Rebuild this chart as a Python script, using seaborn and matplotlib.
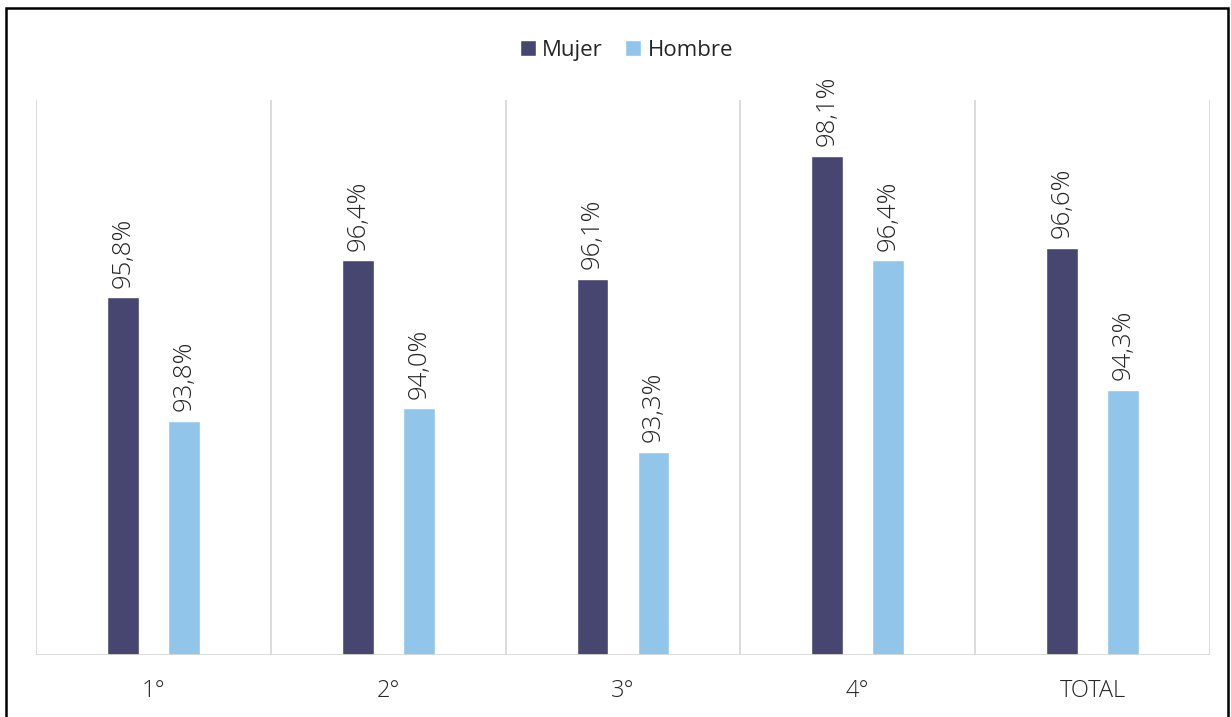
import seaborn as sns
from matplotlib import pyplot as plt
from matplotlib.patches import Rectangle
import pandas as pd

cursos = ['1°', '2°', '3°', '4°', 'TOTAL']
mujer = [95.8, 96.4, 96.1, 98.1, 96.6]
hombre = [93.8, 94.0, 93.3, 96.4, 94.3]
series = ['Mujer', 'Hombre']
colores = ['#474670', '#92C5EA']

df = pd.DataFrame({
    'curso': cursos * 2,
    'valor': mujer + hombre,
    'sexo': ['Mujer'] * len(cursos) + ['Hombre'] * len(cursos),
})

sns.set_theme(style='white')
plt.rcParams['font.family'] = ['Open Sans', 'DejaVu Sans']
plt.rcParams['font.weight'] = 'light'

fig = plt.figure(figsize=(12.31, 7.17), dpi=100)
ax = fig.add_axes([36 / 1231, 1 - 655 / 717, (1210 - 36) / 1231, (655 - 100) / 717])

sns.barplot(data=df, x='curso', y='valor', hue='sexo', hue_order=series,
            palette=colores, saturation=1, width=0.52, gap=0.48, ax=ax, legend=True)

ax.set_ylim(90, 99)
ax.set_xlim(-0.5, len(cursos) - 0.5)
for s in ax.spines.values():
    s.set_visible(False)
for xb in [i - 0.5 for i in range(len(cursos) + 1)]:
    ax.axvline(xb, color='#D9D9D9', lw=1.3, zorder=0)
ax.axhline(90, color='#D9D9D9', lw=2, zorder=3)

ax.set_yticks([])
ax.set_xlabel('')
ax.set_ylabel('')
ax.tick_params(axis='x', length=0, pad=17, labelsize=17, labelcolor='#262626')

for cont, vals in zip(ax.containers, [mujer, hombre]):
    ax.bar_label(cont, labels=[f'{v:.1f}%'.replace('.', ',') for v in vals],
                 rotation=90, padding=7, fontsize=18.5, color='#262626')

ax.legend(loc='upper center', bbox_to_anchor=(0.503, 1.145), ncol=2, frameon=False,
          prop={'size': 16, 'weight': 'normal'}, handlelength=0.7, handleheight=0.7,
          handletextpad=0.3, columnspacing=1.0, labelcolor='#262626')

fig.patches.append(Rectangle((6 / 1231, -0.05), (1228 - 6) / 1231, 1.05 - 8 / 717,
                             transform=fig.transFigure, fill=False,
                             edgecolor='black', lw=1.8))

plt.savefig('out.png', dpi=100)
